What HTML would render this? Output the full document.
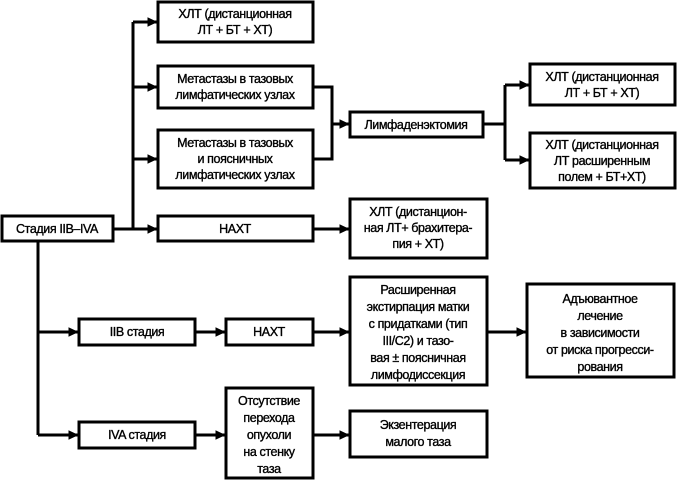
<!DOCTYPE html>
<html><head><meta charset="utf-8"><style>
body{margin:0;background:#fff}
svg{display:block}
text{font-family:"Liberation Sans","DejaVu Sans",sans-serif;font-size:12.5px;fill:#000;stroke:#000;stroke-width:0.35px;text-anchor:middle;letter-spacing:-0.4px}
rect{fill:#fff;stroke:#000;stroke-width:3}
.l{stroke:#000;stroke-width:3;fill:none}
</style></head><body>
<svg width="678" height="480" viewBox="0 0 678 480">
<defs><marker id="a" markerWidth="4" markerHeight="4" refX="3.2" refY="2" orient="auto" markerUnits="strokeWidth"><path d="M0,0.4 L3.4,2 L0,3.6Z" fill="#000"/></marker></defs>
<path class="l" d="M113,229 H133 M133,22 V229"/>
<path class="l" d="M133,22 H157" marker-end="url(#a)"/>
<path class="l" d="M133,87 H157" marker-end="url(#a)"/>
<path class="l" d="M133,159 H157" marker-end="url(#a)"/>
<path class="l" d="M133,229 H157" marker-end="url(#a)"/>
<path class="l" d="M313,87 H332 V159 H313 M332,124 H349" marker-end="url(#a)"/>
<path class="l" d="M483,124 H505 M505,85 V160"/>
<path class="l" d="M505,85 H529" marker-end="url(#a)"/>
<path class="l" d="M505,160 H529" marker-end="url(#a)"/>
<path class="l" d="M313,229 H349" marker-end="url(#a)"/>
<path class="l" d="M38,241 V435"/>
<path class="l" d="M38,332 H78" marker-end="url(#a)"/>
<path class="l" d="M38,435 H78" marker-end="url(#a)"/>
<path class="l" d="M195,332 H225" marker-end="url(#a)"/>
<path class="l" d="M313,332 H349" marker-end="url(#a)"/>
<path class="l" d="M487,332 H526" marker-end="url(#a)"/>
<path class="l" d="M195,435 H225" marker-end="url(#a)"/>
<path class="l" d="M313,435 H349" marker-end="url(#a)"/>
<rect x="2" y="216" width="111" height="25"/>
<text x="57" y="233">Стадия IIB–IVA</text>
<rect x="158" y="2" width="155" height="40"/>
<text x="235" y="18">ХЛТ (дистанционная</text><text x="235" y="34">ЛТ + БТ + ХТ)</text>
<rect x="158" y="66" width="155" height="42"/>
<text x="235" y="83">Метастазы в тазовых</text><text x="235" y="99">лимфатических узлах</text>
<rect x="158" y="130" width="155" height="58"/>
<text x="235" y="147">Метастазы в тазовых</text><text x="235" y="163">и поясничных</text><text x="235" y="179">лимфатических узлах</text>
<rect x="158" y="216" width="155" height="25"/>
<text x="235" y="233">НАХТ</text>
<rect x="350" y="112" width="133" height="25"/>
<text x="416" y="129">Лимфаденэктомия</text>
<rect x="530" y="64" width="145" height="41"/>
<text x="602" y="81">ХЛТ (дистанционная</text><text x="602" y="97">ЛТ + БТ + ХТ)</text>
<rect x="530" y="133" width="145" height="55"/>
<text x="602" y="149">ХЛТ (дистанционная</text><text x="602" y="165">ЛТ расширенным</text><text x="602" y="181">полем + БТ+ХТ)</text>
<rect x="350" y="199" width="137" height="59"/>
<text x="418" y="216">ХЛТ (дистанцион-</text><text x="418" y="232">ная ЛТ+ брахитера-</text><text x="418" y="248">пия + ХТ)</text>
<rect x="79" y="319" width="116" height="26"/>
<text x="137" y="336">IIB стадия</text>
<rect x="226" y="319" width="87" height="26"/>
<text x="269" y="336">НАХТ</text>
<rect x="350" y="277" width="137" height="108"/>
<text x="418" y="294">Расширенная</text><text x="418" y="311">экстирпация матки</text><text x="418" y="328">с придатками (тип</text><text x="418" y="345">III/C2) и тазо-</text><text x="418" y="362">вая ± поясничная</text><text x="418" y="379">лимфодиссекция</text>
<rect x="527" y="284" width="147" height="93"/>
<text x="600" y="303">Адъювантное</text><text x="600" y="320">лечение</text><text x="600" y="337">в зависимости</text><text x="600" y="354">от риска прогресси-</text><text x="600" y="371">рования</text>
<rect x="79" y="422" width="116" height="26"/>
<text x="137" y="439">IVA стадия</text>
<rect x="226" y="388" width="87" height="90"/>
<text x="269" y="405">Отсутствие</text><text x="269" y="422">перехода</text><text x="269" y="439">опухоли</text><text x="269" y="456">на стенку</text><text x="269" y="473">таза</text>
<rect x="350" y="411" width="137" height="46"/>
<text x="418" y="429">Экзентерация</text><text x="418" y="446">малого таза</text>
</svg>
</body></html>
